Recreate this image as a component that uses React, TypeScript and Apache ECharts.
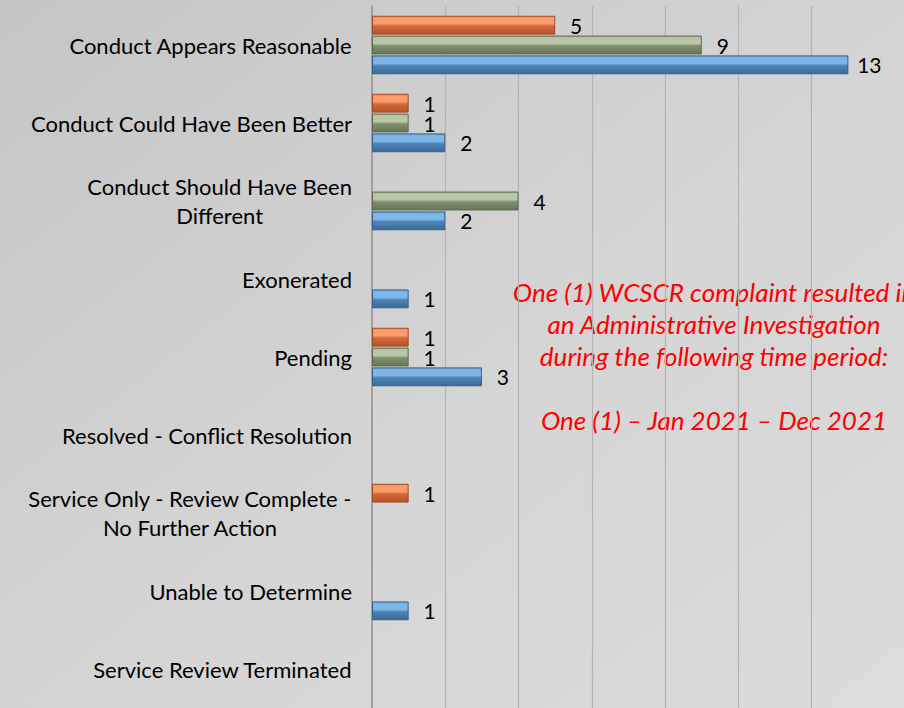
import React, { useEffect, useRef } from "react";
import * as echarts from "echarts";

const categories = [
  "Conduct Appears Reasonable",
  "Conduct Could Have Been Better",
  "Conduct Should Have Been\nDifferent",
  "Exonerated",
  "Pending",
  "Resolved - Conflict Resolution",
  "Service Only - Review Complete -\nNo Further Action",
  "Unable to Determine",
  "Service Review Terminated",
];

const orangeValues = [5, 1, null, null, 1, null, 1, null, null];
const greenValues = [9, 1, 4, null, 1, null, null, null, null];
const blueValues = [13, 2, 2, 1, 3, null, null, 1, null];

const seriesNames = ["Series 1", "Series 2", "Series 3"];

const noteLines = [
  "One (1) WCSCR complaint resulted in",
  "an Administrative Investigation",
  "during the following time period:",
  "",
  "One (1) \u2013 Jan 2021 \u2013 Dec 2021",
];

const FONT = "Lato, 'Open Sans', sans-serif";

function grad(light: string, mid: string, dark: string, darker: string) {
  return new echarts.graphic.LinearGradient(0, 0, 0, 1, [
    { offset: 0, color: mid },
    { offset: 0.12, color: light },
    { offset: 0.42, color: light },
    { offset: 0.55, color: dark },
    { offset: 1, color: darker },
  ]);
}

export default function App() {
  const ref = useRef<HTMLDivElement>(null);
  useEffect(() => {
    if (!ref.current) return;
    const chart = echarts.init(ref.current, null, { renderer: "svg" });
    const label = {
      show: true,
      position: "right",
      distance: 21,
      align: "center",
      color: "#000",
      fontFamily: FONT,
      fontSize: 21,
    };
    const mk = (name: string, data: (number | null)[], color: any, border: string) => ({
      name,
      type: "bar",
      data,
      barCategoryGap: "25%",
      barGap: "5%",
      itemStyle: { color, borderColor: border, borderWidth: 1 },
      label,
    });
    chart.setOption({
      animation: false,
      backgroundColor: new echarts.graphic.LinearGradient(0, 0, 1, 1, [
        { offset: 0, color: "#c5c5c5" },
        { offset: 0.5, color: "#d4d4d4" },
        { offset: 1, color: "#dcdcdc" },
      ]),
      grid: { left: 372, top: 6, width: 513, height: 706, containLabel: false },
      xAxis: {
        type: "value",
        min: 0,
        max: 14,
        interval: 2,
        axisLabel: { show: false },
        axisLine: { show: false },
        axisTick: { show: false },
        splitLine: {
          show: true,
          showMaxLine: false,
          showMinLine: false,
          lineStyle: { color: "#b3b3b3", width: 1.2 },
        },
      },
      yAxis: {
        type: "category",
        inverse: true,
        data: categories,
        axisLine: { show: true, lineStyle: { color: "#8e8e8e", width: 1.5 } },
        axisTick: { show: false },
        axisLabel: {
          margin: 20,
          color: "#000",
          fontFamily: FONT,
          fontSize: 22,
          formatter: (v: string) =>
            v
              .split("\n")
              .map((l) => `{c|${l}}`)
              .join("\n"),
          rich: {
            c: {
              align: "center",
              fontFamily: FONT,
              fontSize: 22,
              color: "#000",
              lineHeight: 29,
            },
          },
        },
      },
      series: [
        mk(seriesNames[0], orangeValues, grad("#fa9c6c", "#ee8555", "#d4683a", "#b4542a"), "#a04a24"),
        mk(seriesNames[1], greenValues, grad("#b9c7a8", "#a5b494", "#7f8f6b", "#66765a"), "#5c6a4e"),
        mk(seriesNames[2], blueValues, grad("#7db7e8", "#6aa3d6", "#4f83b6", "#3c6a98"), "#35608a"),
      ],
      graphic: [
        {
          type: "text",
          x: 714,
          y: 355.5,
          style: {
            text: noteLines.join("\n"),
            align: "center",
            verticalAlign: "middle",
            fill: "#ff0000",
            fontFamily: FONT,
            fontStyle: "italic",
            fontSize: 26,
            lineHeight: 32,
          },
        },
      ],
    });
    return () => chart.dispose();
  }, []);
  return (
    <div
      ref={ref}
      style={{ position: "absolute", left: 0, top: 0, width: 904, height: 708 }}
    />
  );
}
